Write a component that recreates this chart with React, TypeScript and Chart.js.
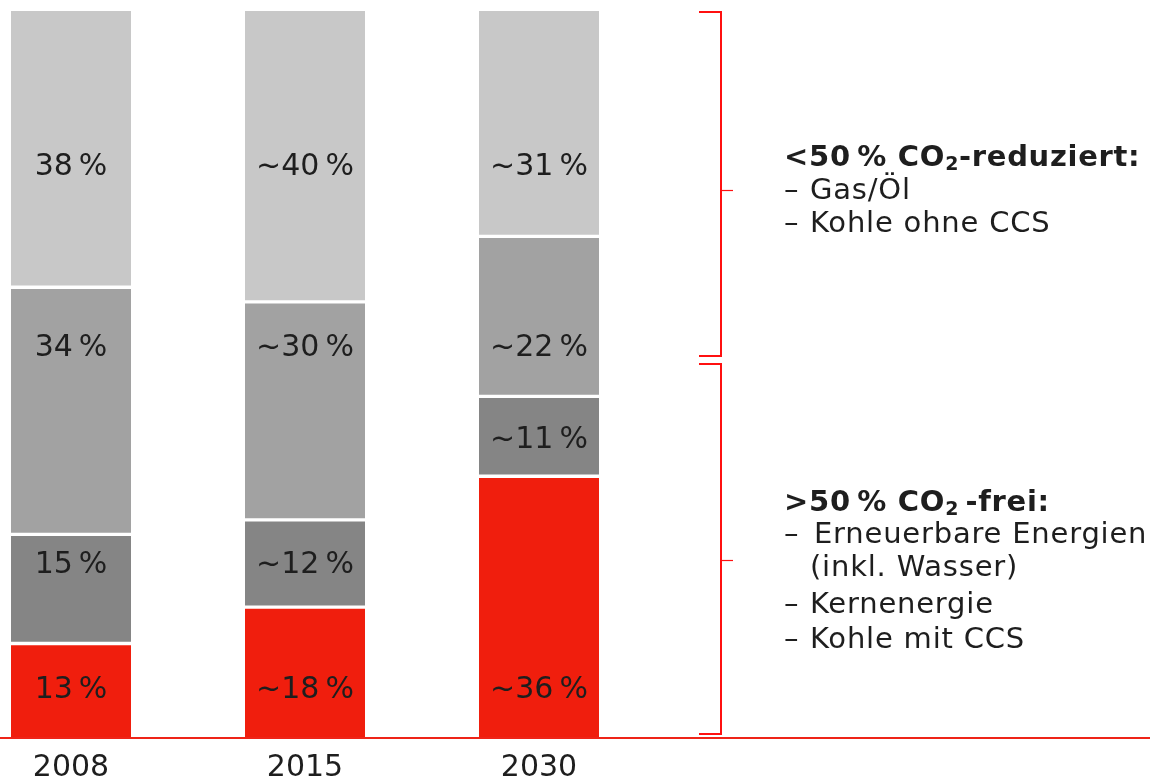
import React, { useEffect, useRef } from 'react';
import { Chart, registerables } from 'chart.js';

Chart.register(...registerables);

// ---- data ----
const YEARS = ['2008', '2015', '2030'];
const CO2_FREE_RED = [13, 18, 36];
const CO2_FREE_GRAY = [15, 12, 11];
const REDUCED_MID = [34, 30, 22];
const REDUCED_LIGHT = [38, 40, 31];
const APPROX = [false, true, true];

// ---- layout / style ----
const FONT = 'DejaVu Sans';
const TEXT = '#1e1e1e';
const COLORS = ['#f01e0d', '#858585', '#a2a2a2', '#c8c8c8'];
// label anchor (value units) per dataset row / category
const LABEL_ROWS = [
  [6.6, 6.6, 6.6],
  [23.8, 23.8, 41.0],
  [53.6, 53.6, 53.6],
  [78.5, 78.5, 78.5],
];
const BRACKETS = [
  { from: 52.5, to: 100, mid: 75.4 },
  { from: 0.5, to: 51.6, mid: 24.5 },
];

type Part = { t: string; sub?: boolean };
const HEAD1: Part[] = [{ t: '<50\u2009% CO' }, { t: '2', sub: true }, { t: '-reduziert:' }];
const HEAD2: Part[] = [{ t: '>50\u2009% CO' }, { t: '2', sub: true }, { t: '\u2009-frei:' }];
const LIST1 = [
  { dash: true, t: 'Gas/Öl', y: 199, x: 810 },
  { dash: true, t: 'Kohle ohne CCS', y: 232, x: 810 },
];
const LIST2 = [
  { dash: true, t: 'Erneuerbare Energien', y: 543, x: 814 },
  { dash: false, t: '(inkl. Wasser)', y: 576, x: 810 },
  { dash: true, t: 'Kernenergie', y: 613, x: 810 },
  { dash: true, t: 'Kohle mit CCS', y: 648, x: 810 },
];

function drawHeading(ctx: any, parts: Part[], x: number, y: number) {
  let cx = x;
  for (const p of parts) {
    if (p.sub) {
      ctx.font = `bold 19px "${FONT}"`;
      ctx.fillText(p.t, cx, y + 4);
    } else {
      ctx.font = `bold 29px "${FONT}"`;
      ctx.fillText(p.t, cx, y);
    }
    cx += ctx.measureText(p.t).width;
  }
}

const overlay = {
  id: 'overlay',
  afterDatasetsDraw(chart: any) {
    const { ctx, chartArea, scales } = chart;
    const y = scales.y;
    ctx.save();
    // segment labels
    ctx.fillStyle = TEXT;
    ctx.font = `30px "${FONT}"`;
    ctx.textAlign = 'center';
    ctx.textBaseline = 'middle';
    chart.data.datasets.forEach((ds: any, di: number) => {
      const meta = chart.getDatasetMeta(di);
      meta.data.forEach((bar: any, i: number) => {
        const txt = (APPROX[i] ? '~' : '') + ds.data[i] + '\u2009%';
        ctx.fillText(txt, bar.x, y.getPixelForValue(LABEL_ROWS[di][i]));
      });
    });
    // axis line
    ctx.strokeStyle = '#ee2418';
    ctx.lineWidth = 2;
    ctx.beginPath();
    ctx.moveTo(0, chartArea.bottom);
    ctx.lineTo(chart.width, chartArea.bottom);
    ctx.stroke();
    // brackets
    ctx.strokeStyle = '#ff1010';
    for (const b of BRACKETS) {
      const t = Math.round(y.getPixelForValue(b.to)) + 1;
      const f = Math.round(y.getPixelForValue(b.from));
      const m = Math.round(y.getPixelForValue(b.mid));
      ctx.lineWidth = 2;
      ctx.beginPath();
      ctx.moveTo(699, t);
      ctx.lineTo(721, t);
      ctx.lineTo(721, f);
      ctx.lineTo(699, f);
      ctx.stroke();
      ctx.lineWidth = 1.2;
      ctx.beginPath();
      ctx.moveTo(721, m + 0.5);
      ctx.lineTo(733, m + 0.5);
      ctx.stroke();
    }
    // annotation text
    ctx.fillStyle = TEXT;
    ctx.textAlign = 'left';
    ctx.textBaseline = 'alphabetic';
    ctx.letterSpacing = '0.7px';
    drawHeading(ctx, HEAD1, 784, 166);
    drawHeading(ctx, HEAD2, 784, 511);
    ctx.font = `29px "${FONT}"`;
    ctx.letterSpacing = '0.8px';
    for (const it of [...LIST1, ...LIST2]) {
      if (it.dash) ctx.fillText('\u2013', 784, it.y);
      ctx.fillText(it.t, it.x, it.y);
    }
    ctx.letterSpacing = '0px';
    ctx.restore();
  },
};

export default function App() {
  const ref = useRef<HTMLCanvasElement | null>(null);
  useEffect(() => {
    if (!ref.current) return;
    const series = [CO2_FREE_RED, CO2_FREE_GRAY, REDUCED_MID, REDUCED_LIGHT];
    const borders = [
      { top: 2, bottom: 0, left: 0, right: 0 },
      { top: 2, bottom: 2, left: 0, right: 0 },
      { top: 2, bottom: 2, left: 0, right: 0 },
      { top: 0, bottom: 2, left: 0, right: 0 },
    ];
    const chart = new Chart(ref.current, {
      type: 'bar',
      data: {
        labels: YEARS,
        datasets: series.map((d, i) => ({
          label: ['CO2-frei', 'CO2-frei (grau)', 'CO2-reduziert', 'CO2-reduziert (hell)'][i],
          data: d,
          backgroundColor: COLORS[i],
          borderColor: '#ffffff',
          borderWidth: borders[i],
          borderSkipped: false,
          barThickness: 120,
          clip: false as any,
        })),
      },
      options: {
        responsive: false,
        animation: false,
        layout: { padding: { left: 71, right: 611, top: 11, bottom: 0 } },
        plugins: { legend: { display: false }, tooltip: { enabled: false } },
        scales: {
          x: {
            stacked: true,
            offset: false,
            grid: { display: false, drawTicks: false },
            border: { display: false },
            ticks: {
              color: TEXT,
              font: { family: FONT, size: 30 },
              padding: 12,
              maxRotation: 0,
              autoSkip: false,
            },
            afterFit: (s: any) => {
              s.height = 44;
            },
          },
          y: { stacked: true, display: false, min: 0, max: 100 },
        },
      },
      plugins: [overlay],
    });
    return () => chart.destroy();
  }, []);
  return (
    <div style={{ position: 'absolute', left: 0, top: 0, width: 1150, height: 782, background: '#fff' }}>
      <canvas ref={ref} width={1150} height={782} style={{ display: 'block' }} />
    </div>
  );
}
